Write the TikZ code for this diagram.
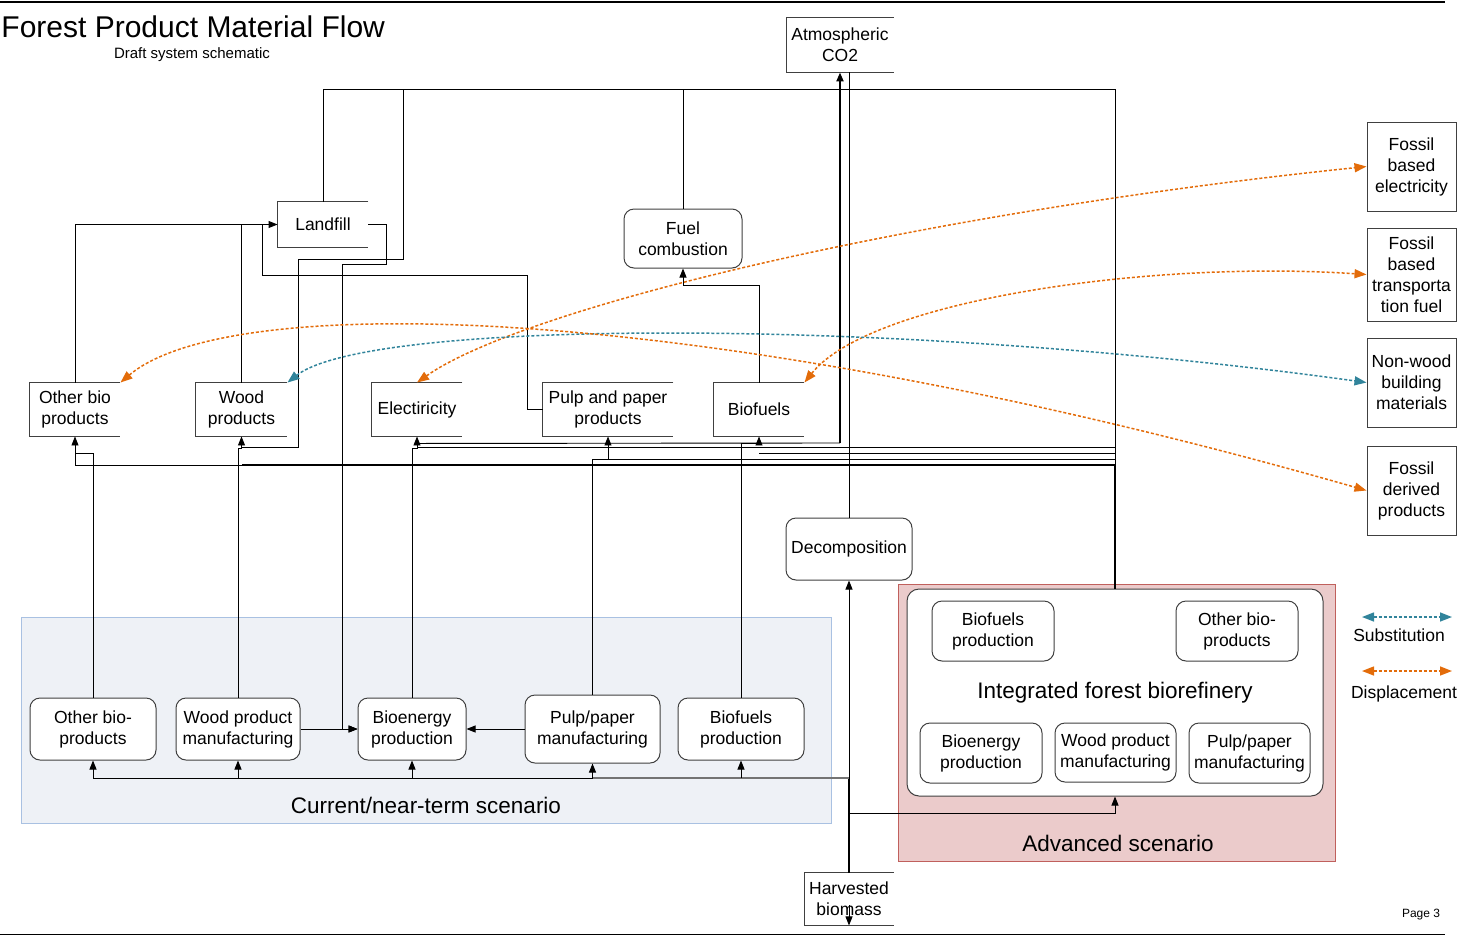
\documentclass[tikz,border=0pt]{standalone}
\usepackage{fontspec}
\setmainfont{Liberation Sans}
\usetikzlibrary{arrows.meta}

\definecolor{boxedge}{HTML}{404040}
\definecolor{curfill}{HTML}{EEF1F6}
\definecolor{curedge}{HTML}{A9C1E2}
\definecolor{advfill}{HTML}{EBCBCB}
\definecolor{advedge}{HTML}{C0605C}
\definecolor{dispcol}{HTML}{E36C0A}
\definecolor{subscol}{HTML}{31849B}

\newcommand{\boxfont}{\fontsize{17.5}{21}\selectfont}
\newcommand{\groupfont}{\fontsize{22.5}{27}\selectfont}

\begin{document}
\begin{tikzpicture}[x=1pt, y=-1pt, line width=0.9pt,
    every node/.style={font=\boxfont, align=center, inner sep=1pt},
    openbox/.style 2 args={minimum width=#1, minimum height=#2,
      append after command={\pgfextra{\let\opennode\tikzlastnode
        \draw[boxedge, line width=1pt] (\opennode.north east) -| (\opennode.south west) -- (\opennode.south east);}}},
    rbox/.style 2 args={draw=boxedge, line width=1pt, rounded corners=10pt, fill=white,
      minimum width=#1, minimum height=#2},
    fossilbox/.style={draw=boxedge, line width=1pt, fill=white, minimum width=89pt},
    groupbox/.style={line width=1pt},
    flow/.style={-{Triangle[length=9pt,width=7pt]}},
    subs/.style={subscol, line width=1.5pt, dash pattern=on 3pt off 2pt,
      {Triangle[length=12pt,width=9pt]}-{Triangle[length=12pt,width=9pt]}},
    disp/.style={subs, dispcol}]

\useasboundingbox (0,0) rectangle (1458,935);
\draw[line width=1.5pt] (0,2) -- (1445,2);
\draw (0,934) -- (1445,934);

\node (title) [anchor=west, font=\fontsize{30}{36}\selectfont] at (0,27) {Forest Product Material Flow};
\node (subtitle) [font=\fontsize{15}{18}\selectfont] at (192,55) {Draft system schematic};
\node (page) [font=\fontsize{12}{14}\selectfont] at (1421,915) {Page 3};

% scenario groups
\node (cur) [groupbox, draw=curedge, fill=curfill, minimum width=810pt, minimum height=206pt] at (426,720) {};
\node (curlabel) [font=\groupfont] at (426,805) {Current/near-term scenario};
\node (adv) [groupbox, draw=advedge, fill=advfill, minimum width=437pt, minimum height=277pt] at (1116.5,722.5) {};
\node (advlabel) [font=\groupfont] at (1118,843) {Advanced scenario};
\node (ifb) [rbox={416pt}{207pt}, rounded corners=12pt, font=\groupfont] at (1115,692.5) {Integrated forest biorefinery};

% pools and products
\node (co2) [openbox={107pt}{54pt}] at (840,45) {Atmospheric\\CO2};
\node (lf) [openbox={90pt}{45pt}] at (323,224.5) {Landfill};
\node (fc) [rbox={118pt}{59pt}] at (683,238.5) {Fuel\\combustion};
\node (obp) [openbox={90pt}{53pt}] at (75,409.5) {Other bio\\products};
\node (wp) [openbox={91pt}{53pt}] at (241.5,409.5) {Wood\\products};
\node (ele) [openbox={90pt}{53pt}] at (417,409.5) {Electiricity};
\node (ppp) [openbox={130pt}{53pt}] at (608,409.5) {Pulp and paper\\products};
\node (bf) [openbox={90pt}{53pt}] at (759,409.5) {Biofuels};
\node (decomp) [rbox={126pt}{62pt}] at (849,549) {Decomposition};
\node (harv) [openbox={89pt}{52pt}] at (849,899) {Harvested\\biomass};

% current processes
\node (obm) [rbox={126pt}{62pt}] at (93,729) {Other bio-\\products};
\node (wpm) [rbox={124pt}{62pt}] at (238,729) {Wood product\\manufacturing};
\node (bep) [rbox={108pt}{62pt}] at (412,729) {Bioenergy\\production};
\node (ppm) [rbox={135pt}{68pt}] at (592.5,729) {Pulp/paper\\manufacturing};
\node (bfp) [rbox={126pt}{62pt}] at (741,729) {Biofuels\\production};

% advanced processes
\node (abf) [rbox={122pt}{60pt}] at (993,631) {Biofuels\\production};
\node (aob) [rbox={122pt}{60pt}] at (1237,631) {Other bio-\\products};
\node (abe) [rbox={122pt}{60pt}] at (981,753) {Bioenergy\\production};
\node (awp) [rbox={121pt}{59pt}] at (1115.5,752.5) {Wood product\\manufacturing};
\node (app) [rbox={121pt}{60pt}] at (1249.5,753) {Pulp/paper\\manufacturing};

% fossil alternatives
\node (fe) [fossilbox, minimum height=89pt] at (1411.5,166.5) {Fossil\\based\\electricity};
\node (ft) [fossilbox, minimum height=93pt] at (1411.5,274.5) {Fossil\\based\\transporta\\tion fuel};
\node (fn) [fossilbox, minimum height=89pt] at (1411.5,382.5) {Non-wood\\building\\materials};
\node (fd) [fossilbox, minimum height=89pt] at (1411.5,490.5) {Fossil\\derived\\products};

\coordinate (hbus) at (849,778);
\coordinate (abus) at (849,813);
\coordinate (topr) at (1115,89);
\coordinate (drop) at (403,89);
\coordinate (co2in) at (840,443);

% harvested biomass
\draw[line width=2pt] (harv.north) -- (hbus);
\draw[flow] (hbus) -- (decomp.south);
\draw (hbus) -- (obm.south |- hbus);
\draw[line width=2pt, black!55] (hbus) -- (ppm.south |- hbus);
\foreach \n in {obm,wpm,bep,ppm,bfp}
  \draw[flow] (\n.south |- hbus) -- (\n.south);
\draw[flow] (abus) -| (ifb.south);
\draw[flow] ([yshift=20pt]harv.south) -- (harv.south);

% to the atmosphere
\draw (decomp.north) -- (decomp.north |- co2.south);
\draw[flow, line width=2pt] (co2in) -- (co2.south);
\draw ([yshift=-7pt]ele.south) -- (co2in);
\draw (lf.north) |- (topr) -- (ifb.north);
\draw (fc.north) -- (fc.north |- topr);

% landfill
\draw[flow] (obp.north) |- (lf.west);
\draw (wp.north) -- (wp.north |- lf.west);
\draw (ppp.west) -| (527,275) -| (262,224.5);
\draw[flow] (lf.east) -- (386,224.5) -- (386,264) -- (342,264) -- (342,729) -- (bep.west);
\draw (drop) |- (298,259) |- ([yshift=-11pt]wp.south);

% processes to products
\draw[flow] (obm.north) |- ([yshift=-17pt]obp.south) -- (obp.south);
\draw[flow] (wpm.north) |- ([yshift=-12pt]wp.south) -- (wp.south);
\draw[flow] (bep.north) |- ([yshift=-12pt]ele.south) -- (ele.south);
\draw[flow] (ppm.north) |- ([yshift=-23pt]ppp.south) -- (ppp.south);
\draw[flow] (bfp.north) |- ([yshift=-7pt]bf.south) -- (bf.south);
\draw[flow] (wpm.east) -- (bep.west);
\draw[flow] (ppm.west) -- (bep.east);
\draw[flow] (bf.north) |- ([yshift=-17pt]fc.south) -- (fc.south);

% biorefinery outputs
\draw[line width=1.5pt] (ifb.north) -- (ifb.north |- 0,465) -- (wp.south |- 0,465);
\draw (wp.south |- 0,465) -- (obp.south |- 0,465) -- ([yshift=-17pt]obp.south);
\draw (ifb.north |- 0,459) -- (ppp.south |- 0,459);
\draw (ifb.north |- 0,453) -- (bf.south |- 0,453);
\draw (ifb.north |- 0,447) -- (ele.south |- 0,447);

% substitution and displacement
\draw[disp] (ele.north) .. controls (520,310) and (900,215) .. (fe.west);
\draw[disp] (bf.north east) .. controls (870,300) and (1150,260) .. (ft.west);
\draw[subs] (wp.north east) .. controls (370,318) and (900,318) .. (fn.west);
\draw[disp] (obp.north east) .. controls (230,290) and (700,300) .. (fd.west);

% legend
\coordinate (subsl) at (1362,617);
\coordinate (subsr) at (1452,617);
\coordinate (displ) at (1362,671);
\coordinate (dispr) at (1452,671);
\draw[subs] (subsl) -- (subsr);
\node (subslabel) at (1399,635) {Substitution};
\draw[disp] (displ) -- (dispr);
\node (displabel) at (1404,694) {Displacement};
\end{tikzpicture}
\end{document}
